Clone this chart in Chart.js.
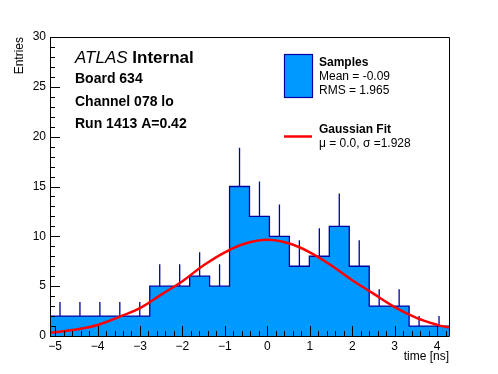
<!DOCTYPE html>
<html>
<head>
<meta charset="utf-8">
<script src="https://cdn.jsdelivr.net/npm/chart.js@4"></script>
<style>
  body { margin: 0; background: #fff; }
  canvas { display: block; }
</style>
</head>
<body>
<canvas id="grafico" width="498" height="374"></canvas>
<script>
// histograma: 20 bins de -5.12 a 4.28 ns
var binLow = -5.12;
var binWidth = 0.47;
var counts = [2, 2, 2, 2, 2, 5, 5, 6, 5, 15, 12, 10, 7, 8, 11, 7, 3, 3, 1, 1];
var errors = [1.4, 1.4, 1.4, 1.4, 1.4, 2.2, 2.2, 2.4, 2.2, 3.9, 3.5, 3.2, 2.6, 2.8, 3.3, 2.6, 1.7, 1.7, 1.0, 1.0];

// curva do ajuste gaussiano
var fitX = [-5.12, -4.5, -4, -3.5, -3, -2.5, -2, -1.5, -1, -0.5, 0, 0.5, 1, 1.5, 2, 2.5, 3, 3.5, 4, 4.28];
var fitY = [0.32, 0.65, 1.1, 1.9, 2.8, 4.15, 5.5, 7.1, 8.4, 9.3, 9.65, 9.3, 8.4, 7.1, 5.6, 4.25, 2.9, 1.85, 1.12, 0.85];

var xTicks = [-5, -4, -3, -2, -1, 0, 1, 2, 3, 4];
var yTicks = [0, 5, 10, 15, 20, 25, 30];

var headerLines = ["Board 634", "Channel 078 lo", "Run 1413 A=0.42"];

var FONTE = "'Liberation Sans', Arial, sans-serif";
var AZUL = '#0099ff';
var AZUL_ESCURO = '#0000a0';

function gerarGrafico() {
    var canvas = document.getElementById("grafico");
    var ctx = canvas.getContext("2d");

    var nBins = counts.length;
    var xMax = binLow + nBins * binWidth;

    var histo = [];
    for (var i = 0; i < nBins; i++) {
        histo.push({ x: binLow + i * binWidth, y: counts[i] });
    }
    histo.push({ x: xMax, y: counts[nBins - 1] });

    var barras = [];
    for (var j = 0; j < nBins; j++) {
        var centro = binLow + (j + 0.5) * binWidth;
        barras.push({ x: centro, y: counts[j] });
        barras.push({ x: centro, y: counts[j] + errors[j] });
        barras.push({ x: centro, y: null });
    }

    var ajuste = fitX.map(function (x, k) { return { x: x, y: fitY[k] }; });

    // moldura, marcas internas e textos no estilo ROOT
    var estiloRoot = {
        id: 'estiloRoot',
        afterDraw: function (chart) {
            var c = chart.ctx;
            var area = chart.chartArea;
            var sx = chart.scales.x;
            var sy = chart.scales.y;
            c.save();
            c.strokeStyle = '#000';
            c.lineWidth = 1;
            c.beginPath();
            c.rect(Math.round(area.left) + 0.5, Math.round(area.top) + 0.5,
                Math.round(area.right - area.left), Math.round(area.bottom - area.top));
            c.stroke();

            c.beginPath();
            for (var v = -5; v <= 4.3; v = Math.round((v + 0.2) * 10) / 10) {
                if (v < sx.min || v > sx.max) continue;
                var px = Math.round(sx.getPixelForValue(v)) + 0.5;
                var major = Math.abs(v - Math.round(v)) < 1e-6;
                c.moveTo(px, area.bottom);
                c.lineTo(px, area.bottom - (major ? 10 : 5));
            }
            for (var w = 0; w <= 30; w++) {
                var py = Math.round(sy.getPixelForValue(w)) + 0.5;
                c.moveTo(area.left, py);
                c.lineTo(area.left + (w % 5 === 0 ? 10 : 5), py);
            }
            c.stroke();

            // titulos dos eixos
            c.fillStyle = '#000';
            c.font = '12px ' + FONTE;
            c.textAlign = 'right';
            c.textBaseline = 'middle';
            c.fillText('time [ns]', area.right, 357);
            c.save();
            c.translate(20, area.top);
            c.rotate(-Math.PI / 2);
            c.fillText('Entries', 0, 0);
            c.restore();

            // rotulo ATLAS
            c.textAlign = 'left';
            c.textBaseline = 'alphabetic';
            c.font = 'italic 17px ' + FONTE;
            c.fillText('ATLAS', 75, 63);
            var wAtlas = c.measureText('ATLAS ').width;
            c.font = 'bold 17px ' + FONTE;
            c.fillText('Internal', 75 + wAtlas, 63);
            c.font = 'bold 14px ' + FONTE;
            headerLines.forEach(function (t, k) {
                c.fillText(t, 75, 83 + k * 22.5);
            });

            // legenda
            c.fillStyle = AZUL;
            c.fillRect(284, 54, 28, 43);
            c.strokeStyle = AZUL_ESCURO;
            c.lineWidth = 1.2;
            c.strokeRect(284.5, 54.5, 28, 43);
            c.fillStyle = '#000';
            c.font = 'bold 12px ' + FONTE;
            c.fillText('Samples', 319, 66);
            c.font = '12px ' + FONTE;
            c.fillText('Mean = -0.09', 319, 80);
            c.fillText('RMS = 1.965', 319, 94);

            c.strokeStyle = '#ff0000';
            c.lineWidth = 2.5;
            c.beginPath();
            c.moveTo(284, 136.5);
            c.lineTo(312, 136.5);
            c.stroke();
            c.font = 'bold 12px ' + FONTE;
            c.fillText('Gaussian Fit', 319, 133);
            c.font = '12px ' + FONTE;
            c.fillText('\u03bc = 0.0, \u03c3 =1.928', 319, 147);
            c.restore();
        }
    };

    var meuGrafico = new Chart(ctx, {
        type: "line",
        data: {
            datasets: [
                {
                    label: "Gaussian Fit",
                    data: ajuste,
                    borderColor: '#ff0000',
                    borderWidth: 2.5,
                    pointRadius: 0,
                    fill: false,
                    tension: 0.4,
                    order: 0
                },
                {
                    label: "erros",
                    data: barras,
                    borderColor: AZUL_ESCURO,
                    borderWidth: 1.3,
                    pointRadius: 0,
                    fill: false,
                    spanGaps: false,
                    order: 1
                },
                {
                    label: "Samples",
                    data: histo,
                    stepped: 'before',
                    borderColor: AZUL_ESCURO,
                    borderWidth: 1.3,
                    backgroundColor: AZUL,
                    pointRadius: 0,
                    fill: 'origin',
                    order: 2
                }
            ]
        },
        options: {
            responsive: false,
            animation: false,
            devicePixelRatio: 1,
            events: [],
            layout: {
                padding: { left: 0, right: 49, top: 37, bottom: 0 }
            },
            plugins: {
                legend: { display: false },
                tooltip: { enabled: false }
            },
            scales: {
                x: {
                    type: 'linear',
                    min: binLow,
                    max: xMax,
                    border: { display: false },
                    grid: { display: false, drawTicks: false },
                    afterBuildTicks: function (scale) {
                        scale.ticks = xTicks.map(function (v) { return { value: v }; });
                    },
                    afterFit: function (scale) { scale.height = 38; },
                    ticks: {
                        padding: 3,
                        maxRotation: 0,
                        autoSkip: false,
                        color: '#000',
                        font: { family: FONTE, size: 12 },
                        callback: function (v) { return String(v).replace('-', '\u2212'); }
                    }
                },
                y: {
                    min: 0,
                    max: 30,
                    border: { display: false },
                    grid: { display: false, drawTicks: false },
                    afterBuildTicks: function (scale) {
                        scale.ticks = yTicks.map(function (v) { return { value: v }; });
                    },
                    afterFit: function (scale) { scale.width = 50; },
                    ticks: {
                        padding: 4,
                        color: '#000',
                        font: { family: FONTE, size: 12 }
                    }
                }
            }
        },
        plugins: [estiloRoot]
    });
}

gerarGrafico();
</script>
</body>
</html>
